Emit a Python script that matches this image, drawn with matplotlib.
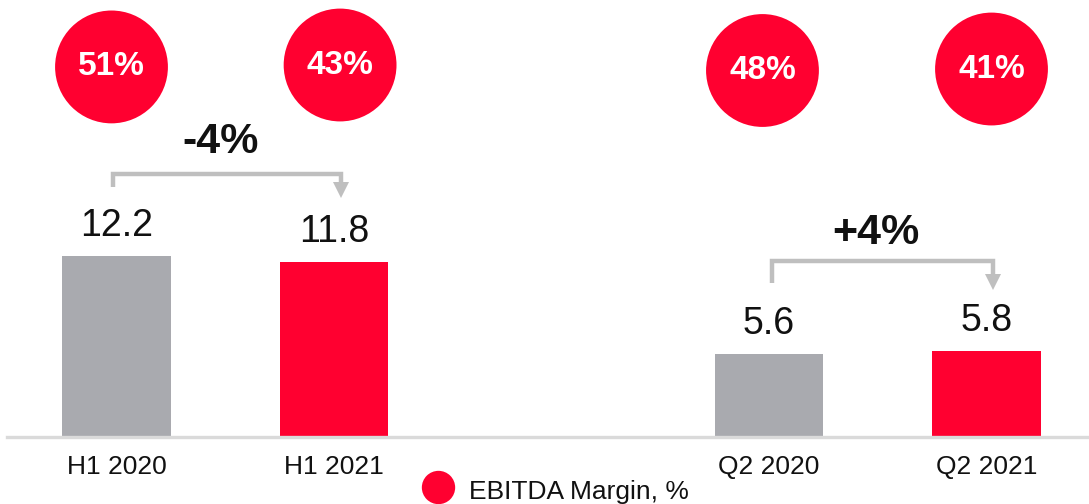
import matplotlib

matplotlib.use("Agg")
import matplotlib.pyplot as plt

plt.rcParams.update({"font.family": ["Liberation Sans", "DejaVu Sans"]})

# data
categories = ["H1 2020", "H1 2021", "Q2 2020", "Q2 2021"]
positions = [0, 1, 3, 4]
ebitda = [12.2, 11.8, 5.6, 5.8]
margins = ["51%", "43%", "48%", "41%"]
changes = ["-4%", "+4%"]

RED = "#FF0030"
GREY = "#A9AAAF"
BRACKET = "#BFBFBF"
bar_colors = [GREY, RED, GREY, RED]

PX_PER_UNIT = 14.85
BASE_PX = 437
W, H = 1089, 504

fig = plt.figure(figsize=(W / 100, H / 100), dpi=100, facecolor="white")
ax = fig.add_axes([0, (H - BASE_PX) / H, 1, BASE_PX / H])
ax.set_xlim(-116.5 / 217.5, (W - 116.5) / 217.5)
ax.set_ylim(0, BASE_PX / PX_PER_UNIT)
for s in ax.spines.values():
    s.set_visible(False)
ax.set_yticks([])

ax.bar(positions, ebitda, width=0.5, color=bar_colors, zorder=2)
ax.axhline(0, xmin=7 / W, xmax=1, color="#DADADA", lw=2.4, clip_on=False, zorder=3)

ax.set_xticks(positions)
ax.set_xticklabels(categories, fontsize=19, color="#111111")
ax.tick_params(axis="x", length=0, pad=13)

# value labels above bars
for x, v in zip(positions, ebitda):
    ax.annotate(f"{v:.1f}", (x, v), xytext=(0, 14), textcoords="offset points",
                ha="center", va="baseline", fontsize=27, color="#111111")

# margin circles
circle_dx = [-0.023, 0.028, -0.03, 0.023]
circle_y = [24.92, 25.05, 24.68, 24.78]
for x, dx, cy, m in zip(positions, circle_dx, circle_y, margins):
    ax.scatter(x + dx, cy, s=6600, color=RED, edgecolors="none", zorder=4, clip_on=False)
    ax.text(x + dx, cy, m, ha="center", va="center", fontsize=24, fontweight="bold",
            color="white", zorder=5)


# change brackets
def bracket(x0, x1, y_left, y_top, y_tip):
    head = 15 / PX_PER_UNIT
    ax.plot([x0, x0, x1, x1], [y_left, y_top, y_top, y_tip + head],
            color=BRACKET, lw=3.2, solid_joinstyle="miter", solid_capstyle="butt", zorder=3)
    ax.plot(x1, y_tip + head / 2, marker="v", markersize=11.5, color=BRACKET,
            markeredgewidth=0, zorder=3)


bracket(positions[0] - 0.016, positions[1] + 0.03, 16.84, 17.71, 16.16)
bracket(positions[2] + 0.013, positions[3] + 0.03, 10.37, 11.82, 9.9)

ax.text(0.48, 19.1, changes[0], ha="center", va="baseline", fontsize=31,
        fontweight="bold", color="#111111")
ax.text(3.49, 13.0, changes[1], ha="center", va="baseline", fontsize=31,
        fontweight="bold", color="#111111")

# legend
fig.lines.append(plt.Line2D([438 / W], [1 - 487 / H], marker="o", markersize=24,
                            color=RED, markeredgewidth=0, transform=fig.transFigure))
fig.text(469 / W, 1 - 492 / H, "EBITDA Margin, %", fontsize=19, color="#111111",
         ha="left", va="center")

fig.savefig("out.png", dpi=100, facecolor="white")
